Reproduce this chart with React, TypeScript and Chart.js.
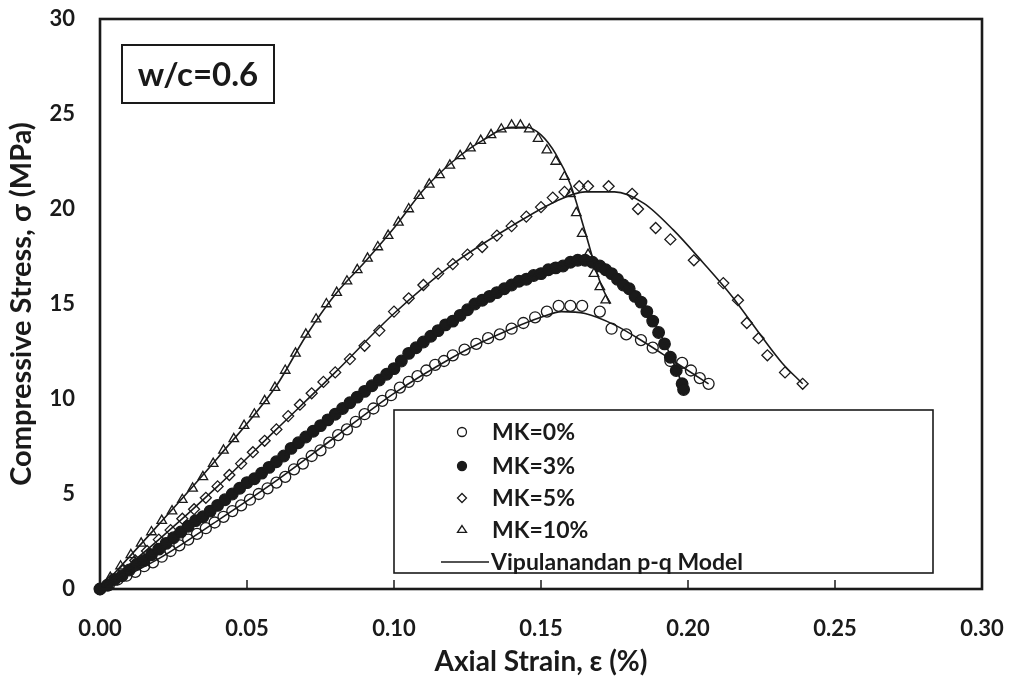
import React, { useEffect, useRef } from "react";
import { Chart, registerables } from "chart.js";

Chart.register(...registerables);

// ---------- axis / text ----------
const X_MIN = 0;
const X_MAX = 0.3;
const X_STEP = 0.05;
const Y_MIN = 0;
const Y_MAX = 30;
const Y_STEP = 5;
const xTitle = "Axial Strain, ε (%)";
const yTitle = "Compressive Stress, σ (MPa)";
const panelLabel = "w/c=0.6";
const seriesNames = ["MK=0%", "MK=3%", "MK=5%", "MK=10%"];
const modelName = "Vipulanandan p-q Model";

// ---------- measured data (strain %, stress MPa) ----------
const mk0Points: [number, number][] = [
  [0.000, 0.0], [0.003, 0.2], [0.006, 0.5], [0.009, 0.7], [0.012, 0.9], [0.015, 1.2],
  [0.018, 1.4], [0.021, 1.7], [0.024, 2.0], [0.027, 2.3], [0.030, 2.6], [0.033, 2.9],
  [0.036, 3.2], [0.039, 3.5], [0.042, 3.8], [0.045, 4.1], [0.048, 4.4], [0.051, 4.7],
  [0.054, 5.0], [0.057, 5.3], [0.060, 5.6], [0.063, 5.9], [0.066, 6.3], [0.069, 6.6],
  [0.072, 7.0], [0.075, 7.3], [0.078, 7.7], [0.081, 8.1], [0.084, 8.4], [0.087, 8.8],
  [0.090, 9.2], [0.093, 9.5], [0.096, 9.9], [0.099, 10.2], [0.102, 10.6], [0.105, 10.9],
  [0.108, 11.2], [0.111, 11.5], [0.114, 11.8], [0.117, 12.0], [0.120, 12.3], [0.124, 12.6],
  [0.128, 12.9], [0.132, 13.2], [0.136, 13.4], [0.140, 13.7], [0.144, 14.0], [0.148, 14.3],
  [0.152, 14.6], [0.156, 14.9], [0.160, 14.9], [0.164, 14.9], [0.170, 14.6], [0.174, 13.7],
  [0.179, 13.4], [0.184, 13.1], [0.188, 12.7], [0.194, 12.0], [0.198, 11.9], [0.201, 11.5],
  [0.204, 11.1], [0.207, 10.8],
];

const mk3Points: [number, number][] = [
  [0.0000, 0.0], [0.0025, 0.2], [0.0050, 0.5], [0.0075, 0.7], [0.0100, 1.0], [0.0125, 1.3],
  [0.0150, 1.5], [0.0175, 1.8], [0.0200, 2.1], [0.0225, 2.4], [0.0250, 2.7], [0.0275, 3.0],
  [0.0300, 3.3], [0.0325, 3.6], [0.0350, 3.8], [0.0375, 4.1], [0.0400, 4.4], [0.0425, 4.7],
  [0.0450, 5.0], [0.0475, 5.3], [0.0500, 5.6], [0.0525, 5.8], [0.0550, 6.1], [0.0575, 6.4],
  [0.0600, 6.7], [0.0625, 7.0], [0.0650, 7.4], [0.0675, 7.7], [0.0700, 8.0], [0.0725, 8.3],
  [0.0750, 8.6], [0.0775, 8.9], [0.0800, 9.2], [0.0825, 9.5], [0.0850, 9.8], [0.0875, 10.1],
  [0.0900, 10.4], [0.0925, 10.7], [0.0950, 11.0], [0.0975, 11.3], [0.1000, 11.6], [0.1025, 12.0],
  [0.1050, 12.4], [0.1075, 12.7], [0.1100, 13.0], [0.1125, 13.3], [0.1150, 13.6], [0.1175, 13.9],
  [0.1200, 14.1], [0.1225, 14.4], [0.1250, 14.7], [0.1275, 15.0], [0.1300, 15.2], [0.1325, 15.4],
  [0.1350, 15.6], [0.1375, 15.8], [0.1400, 16.0], [0.1425, 16.2], [0.1450, 16.3], [0.1475, 16.5],
  [0.1500, 16.6], [0.1525, 16.8], [0.1550, 16.9], [0.1575, 17.0], [0.1600, 17.2], [0.1625, 17.3],
  [0.1650, 17.3], [0.1675, 17.2], [0.1700, 17.0], [0.1720, 16.8], [0.1740, 16.6], [0.1760, 16.3],
  [0.1780, 16.0], [0.1800, 15.8], [0.1820, 15.4], [0.1840, 15.1], [0.1860, 14.6], [0.1880, 14.1],
  [0.1900, 13.5], [0.1920, 12.9], [0.1940, 12.2], [0.1960, 11.5], [0.1980, 10.8], [0.1985, 10.5],
];

const mk5Points: [number, number][] = [
  [0.000, 0.0], [0.004, 0.5], [0.008, 1.0], [0.012, 1.5], [0.016, 2.0], [0.020, 2.6],
  [0.024, 3.1], [0.028, 3.7], [0.032, 4.2], [0.036, 4.8], [0.040, 5.4], [0.044, 6.0],
  [0.048, 6.6], [0.052, 7.2], [0.056, 7.8], [0.060, 8.4], [0.064, 9.1], [0.068, 9.7],
  [0.072, 10.3], [0.076, 10.9], [0.080, 11.4], [0.085, 12.1], [0.090, 12.8], [0.095, 13.6],
  [0.100, 14.6], [0.105, 15.3], [0.110, 16.0], [0.115, 16.6], [0.120, 17.1], [0.125, 17.6],
  [0.130, 18.0], [0.135, 18.6], [0.140, 19.1], [0.145, 19.6], [0.150, 20.1], [0.154, 20.6],
  [0.158, 20.9], [0.163, 21.2], [0.166, 21.2], [0.173, 21.2], [0.181, 20.8], [0.183, 20.0],
  [0.189, 19.0], [0.194, 18.4], [0.202, 17.3], [0.212, 16.1], [0.217, 15.2], [0.220, 14.0],
  [0.224, 13.2], [0.227, 12.3], [0.233, 11.4], [0.239, 10.8],
];

const mk10Points: [number, number][] = [
  [0.0000, 0.0], [0.0035, 0.6], [0.0070, 1.2], [0.0105, 1.8], [0.0140, 2.4], [0.0175, 3.0],
  [0.0210, 3.6], [0.0245, 4.1], [0.0280, 4.7], [0.0315, 5.3], [0.0350, 5.9], [0.0385, 6.6],
  [0.0420, 7.3], [0.0455, 7.9], [0.0490, 8.6], [0.0525, 9.2], [0.0560, 9.9], [0.0595, 10.6],
  [0.0630, 11.5], [0.0665, 12.4], [0.0700, 13.4], [0.0735, 14.2], [0.0770, 15.0], [0.0805, 15.6],
  [0.0840, 16.2], [0.0875, 16.8], [0.0910, 17.4], [0.0945, 18.0], [0.0980, 18.6], [0.1015, 19.3],
  [0.1050, 20.0], [0.1085, 20.7], [0.1120, 21.3], [0.1155, 21.8], [0.1190, 22.3], [0.1225, 22.8],
  [0.1260, 23.2], [0.1295, 23.6], [0.1330, 23.9], [0.1365, 24.2], [0.1400, 24.4], [0.1430, 24.4],
  [0.1460, 24.2], [0.1490, 23.7], [0.1520, 23.1], [0.1550, 22.5], [0.1580, 21.7], [0.1600, 20.8],
  [0.1620, 19.8], [0.1640, 18.7], [0.1660, 17.6], [0.1680, 16.6], [0.1700, 15.9], [0.1720, 15.2],
];

// ---------- model curves ----------
const model0: [number, number][] = [
  [0, 0], [0.02, 1.6], [0.04, 3.6], [0.06, 5.7], [0.08, 8.0], [0.10, 10.3], [0.12, 12.2],
  [0.13, 13.0], [0.14, 13.7], [0.15, 14.3], [0.157, 14.6], [0.165, 14.5], [0.175, 13.9],
  [0.185, 13.0], [0.195, 12.0], [0.207, 10.8],
];
const model3: [number, number][] = [
  [0, 0], [0.02, 2.1], [0.04, 4.4], [0.06, 6.7], [0.08, 9.2], [0.10, 11.6], [0.12, 14.1],
  [0.14, 16.0], [0.155, 16.9], [0.165, 17.3], [0.172, 17.0], [0.18, 15.9], [0.188, 14.2],
  [0.194, 12.3], [0.198, 10.8],
];
const model5: [number, number][] = [
  [0, 0], [0.02, 2.6], [0.04, 5.4], [0.06, 8.4], [0.08, 11.4], [0.10, 14.5], [0.12, 17.1],
  [0.14, 19.1], [0.155, 20.4], [0.165, 20.9], [0.175, 20.9], [0.185, 20.3], [0.195, 18.9],
  [0.205, 17.2], [0.215, 15.4], [0.225, 13.3], [0.232, 11.9], [0.239, 10.8],
];
const model10: [number, number][] = [
  [0, 0], [0.02, 3.4], [0.04, 6.9], [0.06, 10.7], [0.07, 13.3], [0.08, 15.5], [0.09, 17.2],
  [0.10, 19.0], [0.11, 21.0], [0.12, 22.5], [0.13, 23.6], [0.14, 24.3], [0.145, 24.3],
  [0.15, 23.9], [0.155, 22.9], [0.16, 21.3], [0.165, 18.8], [0.17, 16.2], [0.1735, 15.0],
];

const INK = "#1a1a1a";
const FONT = "Lato, 'Open Sans', sans-serif";

const toXY = (pts: [number, number][]) => pts.map(([x, y]) => ({ x, y }));

function markerSet(label: string, pts: [number, number][], style: string, filled: boolean, radius: number) {
  return {
    label,
    data: toXY(pts),
    showLine: false,
    pointStyle: style,
    pointRadius: radius,
    pointBorderWidth: 1.3,
    pointBorderColor: INK,
    pointBackgroundColor: filled ? INK : "rgba(255,255,255,0)",
    borderColor: INK,
    backgroundColor: filled ? INK : "rgba(255,255,255,0)",
    clip: false,
    order: 2,
  };
}
function modelSet(pts: [number, number][]) {
  return {
    label: modelName,
    data: toXY(pts),
    showLine: true,
    pointRadius: 0,
    borderColor: INK,
    borderWidth: 1.6,
    tension: 0.4,
    cubicInterpolationMode: "monotone",
    fill: false,
    clip: false,
    order: 1,
  };
}

function drawMark(ctx: CanvasRenderingContext2D, style: string, filled: boolean, x: number, y: number, r: number) {
  ctx.save();
  ctx.beginPath();
  if (style === "circle") {
    ctx.arc(x, y, r, 0, Math.PI * 2);
  } else if (style === "rectRot") {
    ctx.moveTo(x, y - r);
    ctx.lineTo(x + r, y);
    ctx.lineTo(x, y + r);
    ctx.lineTo(x - r, y);
    ctx.closePath();
  } else if (style === "triangle") {
    const h = r * 1.5;
    ctx.moveTo(x, y - h * 0.66);
    ctx.lineTo(x + r, y + h * 0.34);
    ctx.lineTo(x - r, y + h * 0.34);
    ctx.closePath();
  }
  ctx.lineWidth = 1.3;
  ctx.strokeStyle = INK;
  if (filled) {
    ctx.fillStyle = INK;
    ctx.fill();
  }
  ctx.stroke();
  ctx.restore();
}

const decorPlugin = {
  id: "decor",
  afterDraw(chart: any) {
    const { ctx, chartArea, scales } = chart;
    const xs = scales.x;
    ctx.save();
    // inward x tick marks
    ctx.strokeStyle = INK;
    ctx.lineWidth = 1.5;
    xs.ticks.forEach((t: any) => {
      const px = xs.getPixelForValue(t.value);
      ctx.beginPath();
      ctx.moveTo(px, chartArea.bottom);
      ctx.lineTo(px, chartArea.bottom - 9);
      ctx.stroke();
    });
    // frame
    ctx.lineWidth = 2.6;
    ctx.strokeRect(chartArea.left, chartArea.top, chartArea.right - chartArea.left, chartArea.bottom - chartArea.top);

    // panel label box
    ctx.lineWidth = 2;
    ctx.strokeRect(122, 45, 152, 58);
    ctx.fillStyle = INK;
    ctx.font = `bold 33px ${FONT}`;
    ctx.textAlign = "center";
    ctx.textBaseline = "middle";
    ctx.fillText(panelLabel, 198, 75);

    // legend
    ctx.fillStyle = "#ffffff";
    ctx.fillRect(394, 410, 539, 163);
    ctx.lineWidth = 1.6;
    ctx.strokeRect(394, 410, 539, 163);
    const rows = [432, 466, 498, 530];
    const ds = chart.data.datasets.filter((d: any) => !d.showLine);
    ctx.font = `bold 23px ${FONT}`;
    ctx.textAlign = "left";
    ctx.fillStyle = INK;
    ds.forEach((d: any, i: number) => {
      const filled = d.pointBackgroundColor === INK;
      drawMark(ctx, d.pointStyle, filled, 462, rows[i], 4.5);
      ctx.fillStyle = INK;
      ctx.fillText(d.label, 492, rows[i] + 1);
    });
    ctx.beginPath();
    ctx.lineWidth = 1.5;
    ctx.moveTo(441, 562);
    ctx.lineTo(489, 562);
    ctx.stroke();
    ctx.fillText(modelName, 491, 563);
    ctx.restore();
  },
};

function zeroPad(s: any) {
  s.paddingTop = 0;
  s.paddingBottom = 0;
  s.paddingLeft = 0;
  s.paddingRight = 0;
}

export default function App() {
  const ref = useRef<HTMLCanvasElement | null>(null);
  useEffect(() => {
    if (!ref.current) return;
    const chart = new Chart(ref.current, {
      type: "scatter",
      data: {
        datasets: [
          markerSet(seriesNames[0], mk0Points, "circle", false, 5.5),
          markerSet(seriesNames[1], mk3Points, "circle", true, 5.8),
          markerSet(seriesNames[2], mk5Points, "rectRot", false, 5.5),
          markerSet(seriesNames[3], mk10Points, "triangle", false, 5.5),
          modelSet(model0),
          modelSet(model3),
          modelSet(model5),
          modelSet(model10),
        ] as any,
      },
      options: {
        animation: false,
        responsive: false,
        layout: { autoPadding: false, padding: { left: 0, top: 19, right: 29, bottom: 0 } },
        plugins: { legend: { display: false }, tooltip: { enabled: false } },
        scales: {
          x: {
            type: "linear",
            min: X_MIN,
            max: X_MAX,
            grid: { display: false, drawTicks: false },
            border: { display: false },
            ticks: {
              stepSize: X_STEP,
              padding: 27,
              maxRotation: 0,
              color: INK,
              font: { family: FONT, size: 22, weight: "bold" },
              callback: (v: any) => Number(v).toFixed(2),
            },
            title: {
              display: true,
              text: xTitle,
              color: INK,
              font: { family: FONT, size: 28, weight: "bold" },
              padding: { top: 0, bottom: 13 },
            },
            afterFit: (s: any) => {
              s.height = 103;
              zeroPad(s);
            },
          },
          y: {
            type: "linear",
            min: Y_MIN,
            max: Y_MAX,
            grid: { display: false, drawTicks: false },
            border: { display: false },
            ticks: {
              stepSize: Y_STEP,
              padding: 25,
              color: INK,
              font: { family: FONT, size: 22, weight: "bold" },
            },
            title: {
              display: true,
              text: yTitle,
              color: INK,
              font: { family: FONT, size: 29, weight: "bold" },
              padding: { top: 4, bottom: 0 },
            },
            afterFit: (s: any) => {
              s.width = 100;
              zeroPad(s);
            },
          },
        },
      } as any,
      plugins: [decorPlugin],
    });
    return () => chart.destroy();
  }, []);
  return (
    <div style={{ position: "absolute", left: 0, top: 0, width: 1011, height: 692, background: "#fff" }}>
      <canvas ref={ref} width={1011} height={692} style={{ display: "block" }} />
    </div>
  );
}
